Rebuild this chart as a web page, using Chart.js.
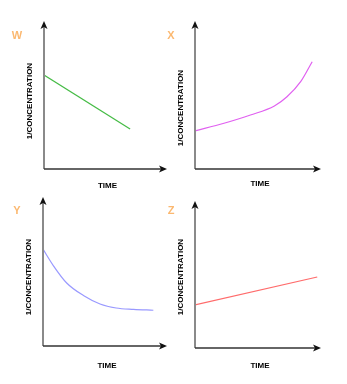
<!DOCTYPE html>
<html>
<head>
<meta charset="utf-8">
<script src="https://cdn.jsdelivr.net/npm/chart.js@4/dist/chart.umd.min.js"></script>
<style>
  html, body { margin: 0; padding: 0; background: #fff; }
  #wrap { position: relative; width: 347px; height: 384px; overflow: hidden; }
  canvas { position: absolute; }
</style>
</head>
<body>
<div id="wrap">
  <canvas id="chart-w" width="174" height="192" style="left:0;top:0"></canvas>
  <canvas id="chart-x" width="196" height="192" style="left:151px;top:0"></canvas>
  <canvas id="chart-y" width="174" height="192" style="left:0;top:192px"></canvas>
  <canvas id="chart-z" width="196" height="192" style="left:151px;top:192px"></canvas>
</div>
<script>
// axis text
const yTitle = '1/CONCENTRATION';
const xTitle = 'TIME';

// W: straight falling line
const wTime = [0, 7.0];
const wValues = [6.35, 2.7];

// X: rising curve, steepening at the end
const xTime = [0, 2.3, 4.4, 6.3, 7.3, 8.4, 9.3];
const xValues = [2.57, 3.09, 3.65, 4.26, 4.88, 5.92, 7.25];

// Y: decaying curve levelling off
const yTime = [0, 0.83, 1.91, 3.26, 4.6, 5.9, 7.3, 8.9];
const yValues = [6.5, 5.4, 4.23, 3.39, 2.82, 2.55, 2.46, 2.4];

// Z: straight rising line
const zTime = [0, 9.7];
const zValues = [2.93, 4.83];

const panels = [
  { id: 'chart-w', letter: 'W', time: wTime, values: wValues, color: '#44bb44', smooth: false,
    padding: { left: 44, top: 21, right: 7, bottom: 23 }, letterPos: [17, 36], yTitleY: 101, xTitleY: 186 },
  { id: 'chart-x', letter: 'X', time: xTime, values: xValues, color: '#e060f0', smooth: true,
    padding: { left: 44, top: 21, right: 26, bottom: 23 }, letterPos: [20, 36], yTitleY: 108, xTitleY: 184 },
  { id: 'chart-y', letter: 'Y', time: yTime, values: yValues, color: '#9999ff', smooth: true,
    padding: { left: 43, top: 5, right: 7, bottom: 38 }, letterPos: [17, 19], yTitleY: 85, xTitleY: 174 },
  { id: 'chart-z', letter: 'Z', time: zTime, values: zValues, color: '#ff6b6b', smooth: false,
    padding: { left: 44, top: 9, right: 26, bottom: 36 }, letterPos: [20, 19], yTitleY: 85, xTitleY: 174 },
];

// draws the two axes with arrowheads, axis titles and the panel letter
const axesPlugin = {
  id: 'axesArrows',
  afterDraw(chart, args, opts) {
    const ctx = chart.ctx;
    const area = chart.chartArea;
    const x0 = chart.scales.x.getPixelForValue(0);
    const y0 = chart.scales.y.getPixelForValue(0);
    ctx.save();

    // vertical axis
    ctx.strokeStyle = '#8a8a8a';
    ctx.lineWidth = 2;
    ctx.beginPath();
    ctx.moveTo(x0, y0);
    ctx.lineTo(x0, area.top + 4);
    ctx.stroke();

    // horizontal axis
    ctx.strokeStyle = '#333';
    ctx.lineWidth = 1.5;
    ctx.beginPath();
    ctx.moveTo(x0, y0);
    ctx.lineTo(area.right - 4, y0);
    ctx.stroke();

    // arrowheads
    ctx.fillStyle = '#111';
    ctx.beginPath();
    ctx.moveTo(x0, area.top);
    ctx.lineTo(x0 - 3.5, area.top + 8);
    ctx.lineTo(x0, area.top + 6);
    ctx.lineTo(x0 + 3.5, area.top + 8);
    ctx.closePath();
    ctx.fill();
    ctx.beginPath();
    ctx.moveTo(area.right, y0);
    ctx.lineTo(area.right - 8, y0 - 3.5);
    ctx.lineTo(area.right - 6, y0);
    ctx.lineTo(area.right - 8, y0 + 3.5);
    ctx.closePath();
    ctx.fill();

    // titles
    ctx.fillStyle = '#000';
    ctx.font = 'bold 8px "Liberation Sans", Arial, sans-serif';
    ctx.textAlign = 'center';
    ctx.textBaseline = 'middle';
    ctx.fillText(xTitle, (x0 + area.right) / 2 + 2, opts.xTitleY);
    ctx.save();
    ctx.translate(x0 - 14, opts.yTitleY);
    ctx.rotate(-Math.PI / 2);
    ctx.fillText(yTitle, 0, 0);
    ctx.restore();

    ctx.fillStyle = '#fbb870';
    ctx.font = 'bold 11px "Liberation Sans", Arial, sans-serif';
    ctx.fillText(opts.letter, opts.letterPos[0], opts.letterPos[1]);
    ctx.restore();
  },
};

panels.forEach((p) => {
  const points = p.time.map((t, i) => ({ x: t, y: p.values[i] }));
  new Chart(document.getElementById(p.id), {
    type: 'line',
    data: {
      datasets: [
        {
          data: points,
          borderColor: p.color,
          borderWidth: 1.2,
          pointRadius: 0,
          fill: false,
          cubicInterpolationMode: p.smooth ? 'monotone' : 'default',
        },
      ],
    },
    options: {
      responsive: false,
      animation: false,
      devicePixelRatio: 1,
      layout: { padding: p.padding },
      scales: {
        x: { type: 'linear', min: 0, max: 10, display: false },
        y: { type: 'linear', min: 0, max: 10, display: false },
      },
      plugins: {
        legend: { display: false },
        tooltip: { enabled: false },
        axesArrows: {
          letter: p.letter,
          letterPos: p.letterPos,
          yTitleY: p.yTitleY,
          xTitleY: p.xTitleY,
        },
      },
    },
    plugins: [axesPlugin],
  });
});
</script>
</body>
</html>
